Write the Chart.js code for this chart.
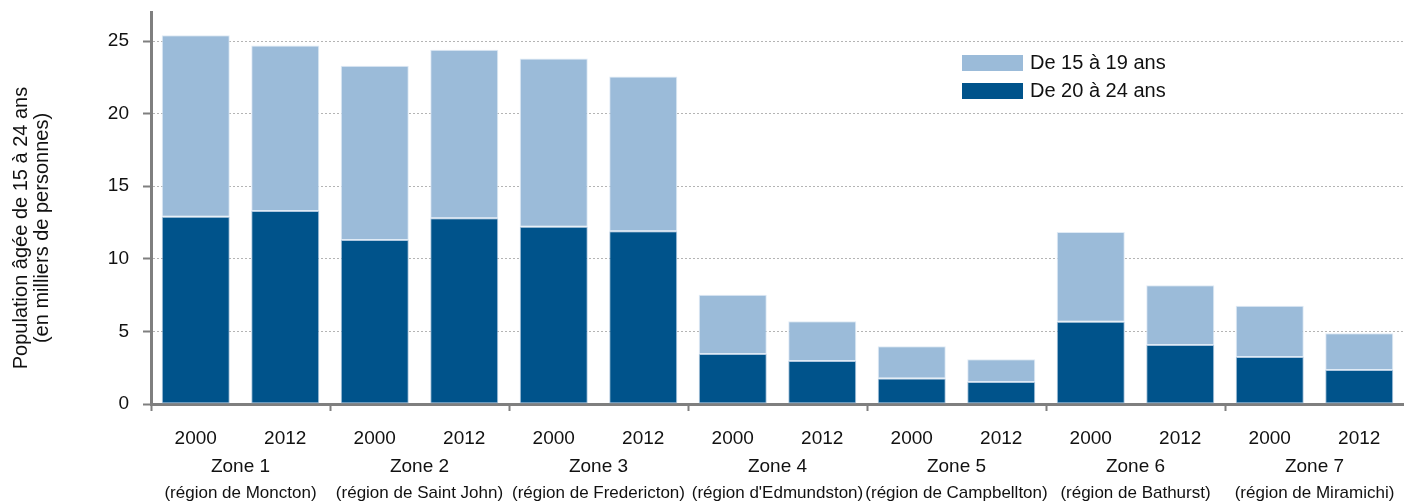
<!DOCTYPE html>
<html lang="fr">
<head>
<meta charset="utf-8">
<script src="https://cdn.jsdelivr.net/npm/chart.js@4"></script>
<style>
  html, body { margin: 0; padding: 0; background: #fff; }
  #wrap { width: 1404px; height: 504px; position: relative; }
</style>
</head>
<body>
<div id="wrap"><canvas id="c"></canvas></div>
<script>
// Population âgée de 15 à 24 ans par zone (en milliers de personnes)
const years = ['2000', '2012', '2000', '2012', '2000', '2012', '2000', '2012', '2000', '2012', '2000', '2012', '2000', '2012'];
const zones = ['Zone 1', 'Zone 2', 'Zone 3', 'Zone 4', 'Zone 5', 'Zone 6', 'Zone 7'];
const regions = ['(région de Moncton)', '(région de Saint John)', '(région de Fredericton)', "(région d'Edmundston)", '(région de Campbellton)', '(région de Bathurst)', '(région de Miramichi)'];
const age20to24 = [12.9, 13.3, 11.3, 12.8, 12.2, 11.9, 3.45, 2.97, 1.75, 1.52, 5.66, 4.07, 3.24, 2.34];
const age15to19 = [12.5, 11.4, 12.0, 11.6, 11.6, 10.65, 4.07, 2.73, 2.23, 1.56, 6.18, 4.11, 3.52, 2.53];
const yTicks = [0, 5, 10, 15, 20, 25];
const yTitle = ['Population âgée de 15 à 24 ans', '(en milliers de personnes)'];

const FONT = "'Liberation Sans', Arial, sans-serif";
const AXIS_GREY = '#7f7f7f';

// Legend drawn inside the plot area, top series first
const insideLegend = {
  id: 'insideLegend',
  afterDraw(chart) {
    const ctx = chart.ctx;
    const ds = chart.data.datasets.slice().reverse();
    ctx.save();
    ctx.font = '20px ' + FONT;
    ctx.textBaseline = 'middle';
    ctx.textAlign = 'left';
    ds.forEach((d, i) => {
      const y = 55 + i * 28;
      ctx.fillStyle = d.backgroundColor;
      ctx.fillRect(962, y, 61, 16);
      ctx.fillStyle = '#111';
      ctx.fillText(d.label, 1030, y + 8);
    });
    ctx.restore();
  }
};

// Zone and region labels centred under each pair of bars, plus the y title
const groupLabels = {
  id: 'groupLabels',
  afterDraw(chart) {
    const ctx = chart.ctx;
    const xs = chart.scales.x;
    ctx.save();
    ctx.fillStyle = '#111';
    ctx.textAlign = 'center';
    ctx.textBaseline = 'middle';
    zones.forEach((z, i) => {
      const cx = (xs.getPixelForValue(2 * i) + xs.getPixelForValue(2 * i + 1)) / 2;
      ctx.font = '19px ' + FONT;
      ctx.fillText(z, cx, 467);
      ctx.font = '17px ' + FONT;
      ctx.fillText(regions[i], cx, 493);
    });
    ctx.translate(0, 228);
    ctx.rotate(-Math.PI / 2);
    ctx.font = '20px ' + FONT;
    yTitle.forEach((t, i) => ctx.fillText(t, 0, 21 + i * 21));
    ctx.restore();
  }
};

new Chart(document.getElementById('c'), {
  type: 'bar',
  data: {
    labels: years,
    datasets: [
      {
        label: 'De 20 à 24 ans',
        data: age20to24,
        backgroundColor: '#00538b',
        borderColor: 'rgba(140,175,210,0.7)',
        borderWidth: 1,
        borderSkipped: false,
        categoryPercentage: 1,
        barPercentage: 0.76
      },
      {
        label: 'De 15 à 19 ans',
        data: age15to19,
        backgroundColor: '#9bbbd9',
        borderColor: 'rgba(220,232,244,0.9)',
        borderWidth: 1,
        borderSkipped: false,
        categoryPercentage: 1,
        barPercentage: 0.76
      }
    ]
  },
  options: {
    responsive: true,
    maintainAspectRatio: false,
    animation: false,
    devicePixelRatio: 1,
    layout: { padding: { top: 12, right: 0, bottom: 0, left: 0 } },
    plugins: { legend: { display: false }, tooltip: { enabled: false } },
    scales: {
      x: {
        stacked: true,
        offset: true,
        afterFit(s) {
          s.height = 100;
          s.paddingLeft = 0;
          s.paddingRight = 0;
        },
        grid: {
          offset: true,
          drawOnChartArea: false,
          drawTicks: true,
          tickLength: 7,
          tickWidth: 2,
          tickColor: (c) => (c.index % 2 === 0 ? AXIS_GREY : 'rgba(0,0,0,0)')
        },
        border: { display: true, color: AXIS_GREY, width: 3 },
        ticks: {
          color: '#111',
          font: { family: FONT, size: 19 },
          padding: 16,
          maxRotation: 0,
          autoSkip: false
        }
      },
      y: {
        stacked: true,
        min: 0,
        max: 27,
        afterFit(s) {
          s.width = 151;
          s.paddingTop = 0;
          s.paddingBottom = 0;
        },
        afterBuildTicks(s) { s.ticks = yTicks.map(v => ({ value: v })); },
        grid: {
          color: (c) => (c.tick && c.tick.value === 0 ? 'rgba(0,0,0,0)' : '#b4b4b4'),
          lineWidth: 1,
          drawTicks: true,
          tickLength: 8,
          tickWidth: 2,
          tickColor: AXIS_GREY
        },
        border: { display: true, color: AXIS_GREY, width: 3, dash: [2, 2] },
        ticks: {
          color: '#111',
          font: { family: FONT, size: 19 },
          padding: 14
        }
      }
    }
  },
  plugins: [insideLegend, groupLabels]
});
</script>
</body>
</html>
